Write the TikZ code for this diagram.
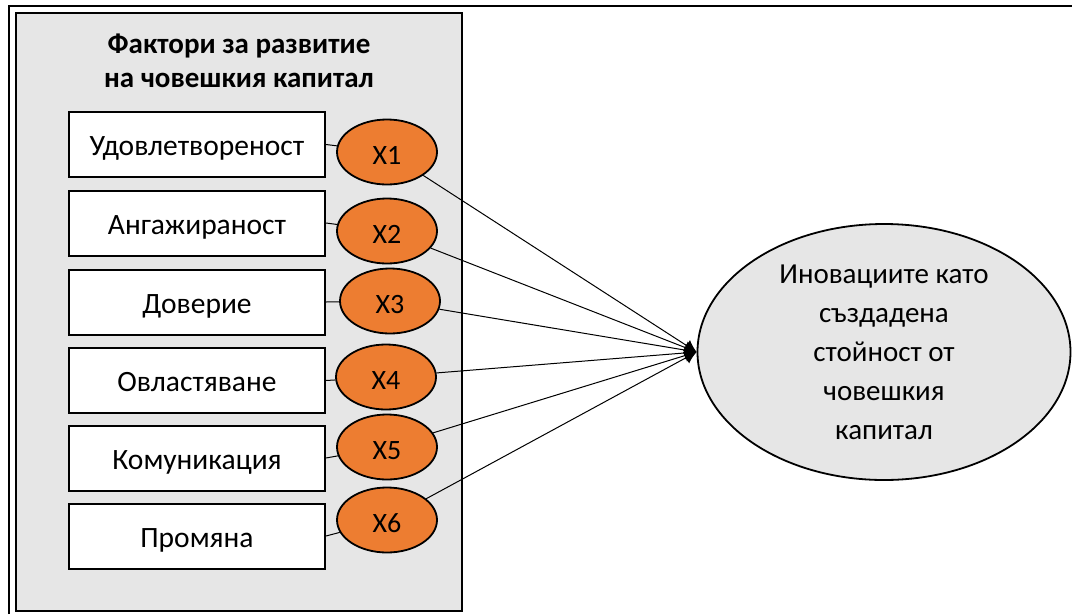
\documentclass[tikz,border=0pt]{standalone}
\usepackage{fontspec}
\setmainfont{Carlito}
\usetikzlibrary{shapes.geometric,arrows.meta}
\definecolor{panelgray}{HTML}{E6E6E6}
\definecolor{factororange}{HTML}{ED7D31}

\begin{document}
\begin{tikzpicture}[x=1pt,y=-1pt,
    factor/.style={draw,line width=2pt,fill=white,minimum width=256pt,minimum height=65pt,
      inner sep=0pt,text height=22pt,text depth=0pt,font=\fontsize{29.5}{34}\selectfont},
    var/.style={ellipse,draw,line width=1.8pt,fill=factororange,minimum width=100pt,
      minimum height=65pt,inner sep=0pt,text height=25pt,text depth=0pt,
      font=\fontsize{28}{32}\selectfont},
    link/.style={line width=1pt}]
  \useasboundingbox (0,0) rectangle (1072,614);
  % frame and grey panel
  \draw[line width=2pt] (8.5,614) -- (8.5,6) -- (1072,6);
  \draw[line width=2.5pt,fill=panelgray] (16,13) rectangle (462,611);
  \node[font=\fontsize{29}{34}\selectfont\bfseries,align=center] (title) at (239,61)
    {Фактори за развитие\\на човешкия капитал};
  % factors
  \node[factor] (f1) at (197,144.5) {Удовлетвореност};
  \node[factor] (f2) at (197,223) {Ангажираност};
  \node[factor] (f3) at (197,302) {Доверие};
  \node[factor] (f4) at (197,380.5) {Овластяване};
  \node[factor] (f5) at (197,458) {Комуникация};
  \node[factor] (f6) at (197,536) {Промяна};
  \node[var] (x1) at (387,152) {X1};
  \node[var] (x2) at (387,231) {X2};
  \node[var] (x3) at (390,301) {X3};
  \node[var] (x4) at (386,377) {X4};
  \node[var] (x5) at (387,447) {X5};
  \node[var] (x6) at (387,520) {X6};
  % result
  \node[ellipse,draw,line width=1.8pt,fill=panelgray,minimum width=373pt,minimum height=256pt,
    inner sep=0pt,align=center,font=\fontsize{29}{39}\selectfont] (inno) at (884,352)
    {Иновациите като\\създадена\\стойност от\\човешкия\\капитал};
  \foreach \i in {1,...,6} {
    \draw[link] (f\i.east) -- (x\i);
    \draw[link,-{Latex[length=12pt,width=13pt]}] (x\i) -- (inno.west);
  }
\end{tikzpicture}
\end{document}
